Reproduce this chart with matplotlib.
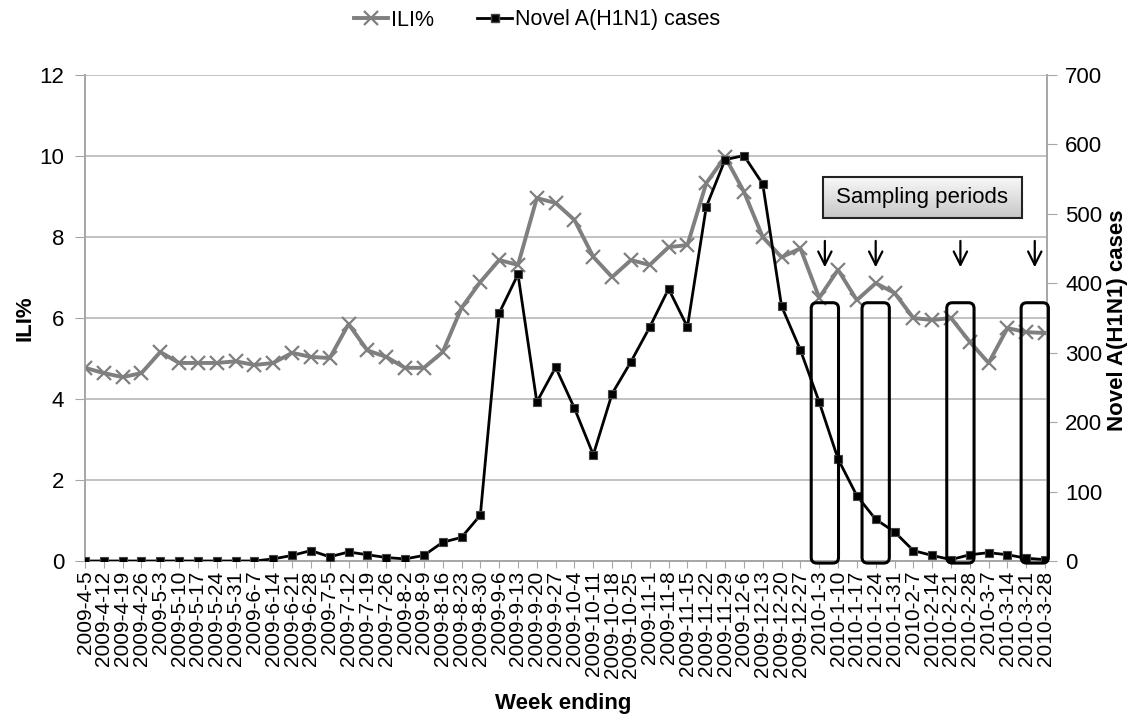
import matplotlib
matplotlib.use("Agg")
import matplotlib.pyplot as plt
from matplotlib.patches import FancyBboxPatch, Rectangle
from matplotlib.lines import Line2D
import numpy as np

plt.rcParams['font.family'] = ['Liberation Sans', 'DejaVu Sans']

weeks = ["2009-4-5", "2009-4-12", "2009-4-19", "2009-4-26", "2009-5-3", "2009-5-10",
         "2009-5-17", "2009-5-24", "2009-5-31", "2009-6-7", "2009-6-14", "2009-6-21",
         "2009-6-28", "2009-7-5", "2009-7-12", "2009-7-19", "2009-7-26", "2009-8-2",
         "2009-8-9", "2009-8-16", "2009-8-23", "2009-8-30", "2009-9-6", "2009-9-13",
         "2009-9-20", "2009-9-27", "2009-10-4", "2009-10-11", "2009-10-18", "2009-10-25",
         "2009-11-1", "2009-11-8", "2009-11-15", "2009-11-22", "2009-11-29", "2009-12-6",
         "2009-12-13", "2009-12-20", "2009-12-27", "2010-1-3", "2010-1-10", "2010-1-17",
         "2010-1-24", "2010-1-31", "2010-2-7", "2010-2-14", "2010-2-21", "2010-2-28",
         "2010-3-7", "2010-3-14", "2010-3-21", "2010-3-28"]

ili = [4.77, 4.64, 4.54, 4.64, 5.16, 4.89, 4.89, 4.89, 4.93, 4.84, 4.89, 5.14,
       5.04, 5.01, 5.85, 5.20, 5.04, 4.77, 4.77, 5.16, 6.25, 6.89, 7.43, 7.31,
       8.96, 8.84, 8.42, 7.51, 7.01, 7.43, 7.31, 7.75, 7.80, 9.33, 9.98, 9.12,
       8.00, 7.50, 7.72, 6.50, 7.19, 6.44, 6.86, 6.62, 6.00, 5.95, 6.00, 5.41,
       4.89, 5.75, 5.65, 5.63]

cases = [0, 0, 0, 0, 0, 0, 0, 0, 0, 0, 3, 8,
         15, 6, 13, 9, 5, 3, 8, 27, 34, 66, 357, 413,
         229, 279, 220, 153, 241, 287, 337, 392, 337, 510, 578, 584,
         543, 367, 304, 229, 147, 94, 60, 42, 15, 8, 2, 9,
         12, 9, 4, 2]

# sampling periods (week index position of each box, box width in weeks)
sample_pos = [39.3, 42.0, 46.5, 50.45]
sample_width = 1.45

x = np.arange(len(weeks))
grey = '#7f7f7f'
axcol = '#a6a6a6'

fig = plt.figure(figsize=(11.28, 7.14), dpi=100)
ax = fig.add_axes([85 / 1128, 1 - 561 / 714, 962 / 1128, 486 / 714])
ax2 = ax.twinx()

ax.plot(x, ili, color=grey, lw=2.8, marker='x', ms=10, mew=1.6, zorder=3)
ax2.plot(x, cases, color='black', lw=2, marker='s', ms=6, mfc='black',
         mec='#444444', mew=0.8, zorder=3)

ax.set_xlim(0, 51.1)
ax.set_ylim(0, 12)
ax2.set_ylim(0, 700)
ax.set_yticks(range(0, 13, 2))
ax2.set_yticks(range(0, 701, 100))
ax.yaxis.grid(True, color='#b8b8b8', lw=1.2)
ax.set_axisbelow(True)

ax.set_xticks(x)
ax.set_xticklabels(weeks, rotation=90, fontsize=15)
ax.tick_params(axis='x', length=5, color=axcol, pad=2)
ax.tick_params(axis='y', labelsize=16, length=7, color=axcol, pad=8)
ax2.tick_params(axis='y', labelsize=16, length=7, color=axcol, pad=6)

for a in (ax, ax2):
    a.spines['top'].set_visible(False)
    for s in ('left', 'right', 'bottom'):
        a.spines[s].set_color(axcol)
        a.spines[s].set_linewidth(1.2)

# rounded boxes for sampling periods
asp = (700 / 486) / (51.1 / 962)
for p in sample_pos:
    b = FancyBboxPatch((p - sample_width / 2, -3), sample_width, 375,
                       boxstyle="round,pad=0,rounding_size=0.3",
                       mutation_aspect=asp, fc='none', ec='black', lw=2.2,
                       zorder=5, clip_on=False)
    ax2.add_patch(b)
    ax2.annotate('', xy=(p, 419), xytext=(p, 465),
                 arrowprops=dict(arrowstyle='->', color='black', lw=1.6,
                                 mutation_scale=24), zorder=5)

# "Sampling periods" label box with gradient
bx0, bx1 = (823 - 85) / 962, (1022 - 85) / 962
by0, by1 = (561 - 218) / 486, (561 - 177) / 486
grad = np.linspace(0.97, 0.78, 50).reshape(-1, 1)
ax2.imshow(grad, extent=(bx0, bx1, by0, by1), transform=ax2.transAxes,
           cmap='gray', vmin=0, vmax=1, aspect='auto', origin='upper', zorder=6)
ax2.add_patch(Rectangle((bx0, by0), bx1 - bx0, by1 - by0, transform=ax2.transAxes,
                        fc='none', ec='#222222', lw=1.5, zorder=7))
ax2.text((bx0 + bx1) / 2, (by0 + by1) / 2, 'Sampling periods', transform=ax2.transAxes,
         ha='center', va='center', fontsize=16, zorder=8)
ax2.set_xlim(0, 51.1)
ax2.set_ylim(0, 700)

fig.text(25 / 1128, 1 - 318 / 714, 'ILI%', rotation=90, ha='center', va='center',
         fontsize=16, fontweight='bold')
fig.text(1118 / 1128, 1 - 320 / 714, 'Novel A(H1N1) cases', rotation=90, ha='center',
         va='center', fontsize=16, fontweight='bold')
fig.text(563 / 1128, 1 - 703 / 714, 'Week ending', ha='center', va='center',
         fontsize=16, fontweight='bold')

handles = [Line2D([], [], color=grey, lw=2.8, marker='x', ms=10, mew=1.6),
           Line2D([], [], color='black', lw=2, marker='s', ms=6, mec='#444444')]
fig.legend(handles, ['ILI%', 'Novel A(H1N1) cases'], loc='center',
           bbox_to_anchor=(537 / 1128, 1 - 20 / 714), ncol=2, frameon=False,
           fontsize=15.5, handlelength=1.6, handletextpad=0.15, columnspacing=2.0)

fig.savefig('out.png', dpi=100)
